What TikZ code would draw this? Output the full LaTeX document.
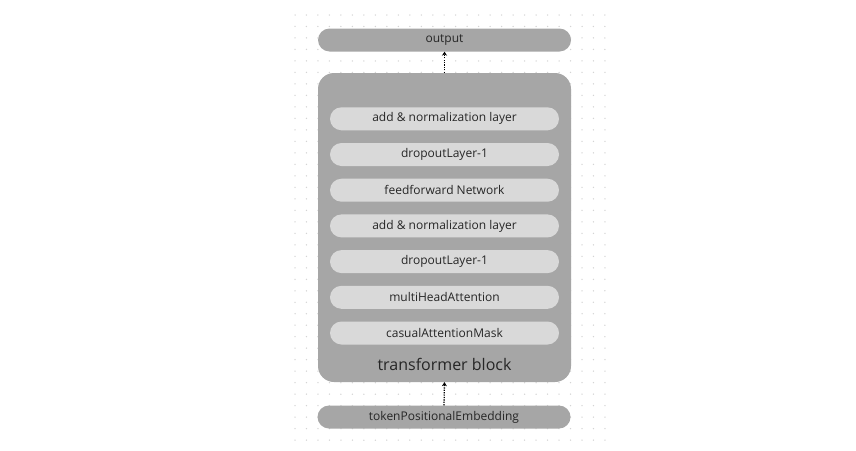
\documentclass[tikz,border=0pt]{standalone}
\usepackage{fontspec}
\setmainfont{Open Sans}
\usetikzlibrary{arrows.meta}
\definecolor{boxgray}{HTML}{A6A6A6}
\definecolor{innergray}{HTML}{D9D9D9}
\definecolor{dotgray}{HTML}{D4D4D4}
\definecolor{txt}{HTML}{262626}
\begin{document}
\begin{tikzpicture}[x=1pt,y=-1pt,
  pill/.style={fill=boxgray,rounded corners=11.5pt,minimum width=253pt,minimum height=23pt,inner sep=0pt,text=txt,font=\fontsize{12}{14}\selectfont},
  layerbox/.style={fill=innergray,rounded corners=11.5pt,minimum width=229pt,minimum height=23pt,inner sep=0pt,text=txt,font=\fontsize{12}{14}\selectfont},
  dotarrow/.style={draw=black,line width=1.3pt,dash pattern=on 1.2pt off 1.2pt,-{Stealth[length=4pt,width=5pt]}}
]
\useasboundingbox (0,0) rectangle (856,450);
\fill[white] (0,0) rectangle (856,450);
% dot grid
\foreach \i in {0,...,27}{
  \foreach \j in {0,...,37}{
    \fill[dotgray] (295+\i*11.48,15+\j*11.49) circle (0.75pt);
  }
}
% transformer block
\node[fill=boxgray,rounded corners=16pt,minimum width=253pt,minimum height=309pt,inner sep=0pt] (tb) at (444.5,227.5) {};
\node[text=txt,font=\fontsize{16}{18}\selectfont] (tbl) at (444.5,364.5) {transformer block};
% output & input
\node[pill] (out) at (444.5,40) {output};
\node[pill] (emb) at (444,417) {tokenPositionalEmbedding};
% layers
\node[layerbox] (l1) at (444.5,118.8) {add \& normalization layer};
\node[layerbox] (l2) at (444.5,154.5) {dropoutLayer-1};
\node[layerbox] (l3) at (444.5,190.2) {feedforward Network};
\node[layerbox] (l4) at (444.5,225.9) {add \& normalization layer};
\node[layerbox] (l5) at (444.5,261.6) {dropoutLayer-1};
\node[layerbox] (l6) at (444.5,297.3) {multiHeadAttention};
\node[layerbox] (l7) at (444.5,333.0) {casualAttentionMask};
% connectors
\draw[dotarrow] (tb.north) -- (out.south);
\draw[dotarrow] (emb.north) -- (tb.south);
\end{tikzpicture}
\end{document}
